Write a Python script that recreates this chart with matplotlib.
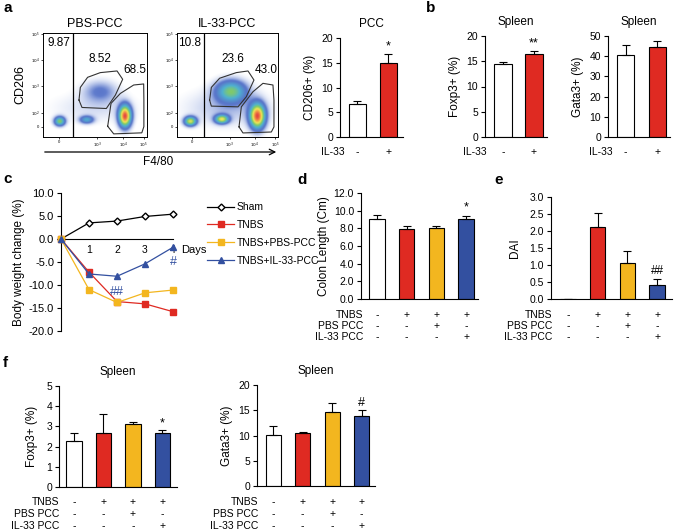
import numpy as np
import matplotlib
matplotlib.use('Agg')
import matplotlib.pyplot as plt
from matplotlib import transforms
from matplotlib.colors import LinearSegmentedColormap
from matplotlib.ticker import FormatStrFormatter

plt.rcParams['font.family'] = ['Liberation Sans', 'DejaVu Sans']
plt.rcParams['font.size'] = 7

W, H = 675, 532

# ---- data ----
RED, YEL, BLU = '#df2a22', '#f3b61f', '#3350a0'

# a: flow populations (labels) and cluster shape (cx, cy, sx, sy, weight)
flow_titles = ['PBS-PCC', 'IL-33-PCC']
flow_pcts = [['9.87', '8.52', '68.5'], ['10.8', '23.6', '43.0']]
flow_clusters = [
    [(0.16, 0.15, 0.035, 0.03, 0.55), (0.42, 0.165, 0.045, 0.025, 0.35),
     (0.79, 0.20, 0.04, 0.07, 1.0), (0.55, 0.44, 0.11, 0.07, 0.17),
     (0.50, 0.28, 0.28, 0.10, 0.06)],
    [(0.13, 0.15, 0.04, 0.03, 0.55), (0.44, 0.17, 0.045, 0.028, 0.55),
     (0.79, 0.20, 0.05, 0.08, 0.8), (0.53, 0.44, 0.10, 0.07, 0.42),
     (0.50, 0.28, 0.28, 0.12, 0.08)],
]
gate_upper = [
    [(0.346, 0.355), (0.359, 0.477), (0.429, 0.574), (0.551, 0.619), (0.712, 0.635),
     (0.766, 0.555), (0.696, 0.403), (0.609, 0.274), (0.375, 0.284)],
    [(0.323, 0.355), (0.340, 0.477), (0.422, 0.565), (0.587, 0.619), (0.703, 0.635),
     (0.762, 0.548), (0.686, 0.387), (0.604, 0.290), (0.340, 0.297)],
]
gate_lower = [
    [(0.622, 0.103), (0.654, 0.323), (0.744, 0.419), (0.872, 0.50), (0.968, 0.51),
     (0.97, 0.355), (0.97, 0.10), (0.95, 0.04), (0.68, 0.03)],
    [(0.614, 0.097), (0.637, 0.29), (0.752, 0.435), (0.851, 0.516), (0.950, 0.50),
     (0.96, 0.355), (0.96, 0.097), (0.934, 0.048), (0.653, 0.039)],
]
gate_line = [0.288, 0.264]

# a: PCC CD206+
pcc_vals = [6.7, 15.0]
pcc_err = [0.5, 1.8]
# b: spleen
b_foxp3 = [14.4, 16.5]
b_foxp3_err = [0.4, 0.6]
b_gata3 = [40.5, 44.5]
b_gata3_err = [5.0, 3.0]
il33_signs = ['-', '+']

# c: body weight
days = [0, 1, 2, 3, 4]
sham = [0, 3.5, 3.9, 4.9, 5.4]
tnbs = [0, -7.2, -13.6, -14.1, -15.8]
tnbs_pbs = [0, -11.0, -13.8, -11.7, -11.1]
tnbs_il33 = [0, -7.6, -8.1, -5.4, -1.8]

# d, e, f
colon = [9.1, 7.9, 8.0, 9.05]
colon_err = [0.45, 0.4, 0.25, 0.3]
dai = [0.0, 2.12, 1.07, 0.4]
dai_err = [0.0, 0.4, 0.33, 0.2]
f_foxp3 = [2.3, 2.65, 3.13, 2.65]
f_foxp3_err = [0.37, 0.97, 0.08, 0.15]
f_gata3 = [10.1, 10.4, 14.6, 13.9]
f_gata3_err = [1.7, 0.2, 1.8, 1.1]
row_names = ['TNBS', 'PBS PCC', 'IL-33 PCC']
row_signs = [['-', '+', '+', '+'], ['-', '-', '+', '-'], ['-', '-', '-', '+']]
four_colors = ['white', RED, YEL, BLU]
two_colors = ['white', RED]

fig = plt.figure(figsize=(W / 100, H / 100), dpi=100)


def px_axes(l, t, r, b):
    return fig.add_axes([l / W, 1 - b / H, (r - l) / W, (b - t) / H])


def fy(y):
    return 1 - y / H


def bar_panel(ax, vals, errs, colors, ylim, yticks, xlim, fmt=None, width=0.52):
    x = np.arange(len(vals))
    ax.bar(x, vals, width=width, color=colors, edgecolor='black', linewidth=0.8,
           yerr=[np.zeros(len(errs)), errs], error_kw=dict(ecolor='black', elinewidth=0.8,
                                                           capsize=3, capthick=0.8))
    ax.set_xlim(*xlim)
    ax.set_ylim(*ylim)
    ax.set_yticks(yticks)
    if fmt:
        ax.yaxis.set_major_formatter(FormatStrFormatter(fmt))
    ax.set_xticks([])
    for s in ['top', 'right']:
        ax.spines[s].set_visible(False)
    ax.spines['left'].set_linewidth(0.8)
    ax.spines['bottom'].set_linewidth(0.8)
    ax.tick_params(axis='y', direction='out', length=3, width=0.8, labelsize=7.5, pad=2)
    return x


def sign_rows(ax, names, signs, ys, right_px):
    tr = transforms.blended_transform_factory(ax.transData, fig.transFigure)
    for name, row, y in zip(names, signs, ys):
        fig.text(right_px / W, fy(y), name, ha='right', va='center', fontsize=7.5)
        for i, s in enumerate(row):
            ax.text(i, fy(y), s, transform=tr, ha='center', va='center', fontsize=7.5)


def mark(ax, i, vals, errs, s, dy, color='black', size=9):
    ax.text(i, vals[i] + errs[i] + dy, s, ha='center', va='bottom', fontsize=size, color=color)


# ---- panel letters ----
for lab, x, y in [('a', 3, 8), ('b', 426, 8), ('c', 3, 179), ('d', 297, 180),
                  ('e', 494, 180), ('f', 3, 363)]:
    fig.text(x / W, fy(y), lab, fontsize=11, fontweight='bold', ha='left', va='center')

# ---- a: flow plots ----
cmap = LinearSegmentedColormap.from_list(
    'flow', [(0.0, '#7b97dc'), (0.25, '#3a5cc0'), (0.45, '#2fa3c8'), (0.6, '#6cc24a'),
             (0.75, '#eee23a'), (0.88, '#f08a24'), (1.0, '#e0261f')])
gx, gy = np.meshgrid(np.linspace(0, 1, 220), np.linspace(0, 1, 220))
flow_boxes = [(43, 33, 147, 137), (177, 33, 278, 137)]
for k, box in enumerate(flow_boxes):
    ax = px_axes(*box)
    dens = np.zeros_like(gx)
    for cx, cy, sx, sy, w in flow_clusters[k]:
        dens += w * np.exp(-0.5 * (((gx - cx) / sx) ** 2 + ((gy - cy) / sy) ** 2))
    dens = dens / dens.max()
    rgba = cmap(dens ** 0.85)
    rgba[..., 3] = np.clip((dens - 0.012) / 0.15, 0, 1) * 0.85
    ax.imshow(rgba, origin='lower', extent=[0, 1, 0, 1], aspect='auto',
              interpolation='bilinear')
    ax.axvline(gate_line[k], color='black', lw=0.9)
    for poly in (gate_upper[k], gate_lower[k]):
        p = np.array(poly + [poly[0]])
        ax.plot(p[:, 0], p[:, 1], color='#333333', lw=0.8)
    pos = [(0.15 if k == 0 else 0.12, 0.90), (0.55, 0.75), (0.885, 0.645)]
    for txt, (px, py) in zip(flow_pcts[k], pos):
        ax.text(px, py, txt, ha='center', va='center', fontsize=8.5)
    ax.set_xlim(0, 1)
    ax.set_ylim(0, 1)
    ax.set_yticks([0.097, 0.23, 0.49, 0.74, 0.99])
    ax.set_yticklabels(['0', '$10^2$', '$10^3$', '$10^4$', '$10^5$'])
    ax.set_xticks([0.15, 0.52, 0.77, 0.97])
    ax.set_xticklabels(['0', '$10^3$', '$10^4$', '$10^5$'])
    ax.tick_params(labelsize=3, length=1.5, width=0.5, pad=1)
    for s in ax.spines.values():
        s.set_linewidth(0.7)
    ax.set_title(flow_titles[k], fontsize=9, pad=4)
fig.text(20 / W, fy(85), 'CD206', rotation=90, ha='center', va='center', fontsize=9)
fig.add_artist(matplotlib.patches.FancyArrowPatch(
    (42 / W, fy(152)), (279 / W, fy(152)), transform=fig.transFigure,
    arrowstyle='->', mutation_scale=10, lw=0.9, color='black'))
fig.text(158 / W, fy(162), 'F4/80', ha='center', va='center', fontsize=8.5)

# ---- a: PCC bar ----
ax = px_axes(340, 38, 403, 137)
bar_panel(ax, pcc_vals, pcc_err, two_colors, (0, 20), [0, 5, 10, 15, 20], (-0.55, 1.48), width=0.55)
mark(ax, 1, pcc_vals, pcc_err, '*', 0.2)
ax.set_title('PCC', fontsize=8.5, pad=8)
ax.set_ylabel('CD206+ (%)', fontsize=8.5, labelpad=4)
sign_rows(ax, ['IL-33'], [il33_signs], [152], 345)

# ---- b ----
ax = px_axes(485, 36, 547, 137)
bar_panel(ax, b_foxp3, b_foxp3_err, two_colors, (0, 20), [0, 5, 10, 15, 20], (-0.58, 1.42), width=0.55)
mark(ax, 1, b_foxp3, b_foxp3_err, '**', 0.2)
ax.set_title('Spleen', fontsize=8.5, pad=8)
ax.set_ylabel('Foxp3+ (%)', fontsize=8.5, labelpad=4)
sign_rows(ax, ['IL-33'], [il33_signs], [152], 487)

ax = px_axes(608, 36, 670, 137)
bar_panel(ax, b_gata3, b_gata3_err, two_colors, (0, 50), [0, 10, 20, 30, 40, 50], (-0.56, 1.4), width=0.55)
ax.set_title('Spleen', fontsize=8.5, pad=8)
ax.set_ylabel('Gata3+ (%)', fontsize=8.5, labelpad=4)
sign_rows(ax, ['IL-33'], [il33_signs], [152], 613)

# ---- c: body weight ----
ax = px_axes(61, 193, 173, 331)
ax.plot(days, sham, '-', color='black', marker='D', ms=3.5, mfc='white', mec='black',
        lw=0.9, label='Sham', clip_on=False, zorder=3)
ax.plot(days, tnbs, '-', color=RED, marker='s', ms=5, lw=0.9, label='TNBS', clip_on=False, zorder=3)
ax.plot(days, tnbs_pbs, '-', color=YEL, marker='s', ms=5, lw=0.9, label='TNBS+PBS-PCC',
        clip_on=False, zorder=3)
ax.plot(days, tnbs_il33, '-', color=BLU, marker='^', ms=5, lw=0.9, label='TNBS+IL-33-PCC',
        clip_on=False, zorder=4)
ax.set_xlim(0, 4)
ax.set_ylim(-20, 10)
ax.set_yticks(np.arange(-20, 11, 5))
ax.yaxis.set_major_formatter(FormatStrFormatter('%.1f'))
ax.spines['bottom'].set_position(('data', 0))
for s in ['top', 'right']:
    ax.spines[s].set_visible(False)
ax.spines['left'].set_linewidth(0.8)
ax.spines['bottom'].set_linewidth(0.8)
ax.set_xticks([])
ax.tick_params(axis='y', direction='out', length=3, width=0.8, labelsize=8, pad=2)
for d in days[1:]:
    ax.text(d, -1.4, str(d), ha='center', va='top', fontsize=7.5, zorder=1)
ax.text(4.3, -1.4, 'Days', ha='left', va='top', fontsize=8)
ax.text(2, -11.5, '##', ha='center', va='center', fontsize=9, color=BLU)
ax.text(4, -5.0, '#', ha='center', va='center', fontsize=9, color=BLU)
ax.set_ylabel('Body weight change (%)', fontsize=8.5, labelpad=3)
fig.legend(*ax.get_legend_handles_labels(), loc='upper left',
           bbox_to_anchor=(203 / W, fy(198)), frameon=False, fontsize=7.5,
           handlelength=2.6, labelspacing=0.75, handletextpad=0.2, borderaxespad=0)

# ---- d: colon length ----
ax = px_axes(361, 193, 478, 299)
bar_panel(ax, colon, colon_err, four_colors, (0, 12), np.arange(0, 13, 2), (-0.54, 3.4), fmt='%.1f')
mark(ax, 3, colon, colon_err, '*', 0.3)
ax.set_ylabel('Colon Length (Cm)', fontsize=8.5, labelpad=3)
sign_rows(ax, row_names, row_signs, [315, 326, 337], 363)

# ---- e: DAI ----
ax = px_axes(551, 197, 672, 299)
bar_panel(ax, dai, dai_err, four_colors, (0, 3), np.arange(0, 3.01, 0.5), (-0.57, 3.5), fmt='%.1f')
mark(ax, 3, dai, dai_err, '##', 0.05, size=8.5)
ax.set_ylabel('DAI', fontsize=8.5, labelpad=6)
sign_rows(ax, row_names, row_signs, [315, 326, 337], 552)

# ---- f ----
ax = px_axes(59, 386, 177, 487)
bar_panel(ax, f_foxp3, f_foxp3_err, four_colors, (0, 5), np.arange(0, 6, 1), (-0.51, 3.5))
mark(ax, 3, f_foxp3, f_foxp3_err, '*', 0.05)
ax.set_title('Spleen', fontsize=8.5, pad=8)
ax.set_ylabel('Foxp3+ (%)', fontsize=8.5, labelpad=6)
sign_rows(ax, row_names, row_signs, [502, 514, 526], 59)

ax = px_axes(257, 385, 375, 486)
bar_panel(ax, f_gata3, f_gata3_err, four_colors, (0, 20), np.arange(0, 21, 5), (-0.55, 3.45))
mark(ax, 3, f_gata3, f_gata3_err, '#', 0.2)
ax.set_title('Spleen', fontsize=8.5, pad=8)
ax.set_ylabel('Gata3+ (%)', fontsize=8.5, labelpad=4)
sign_rows(ax, row_names, row_signs, [502, 514, 526], 258)

fig.savefig('out.png', dpi=100)
